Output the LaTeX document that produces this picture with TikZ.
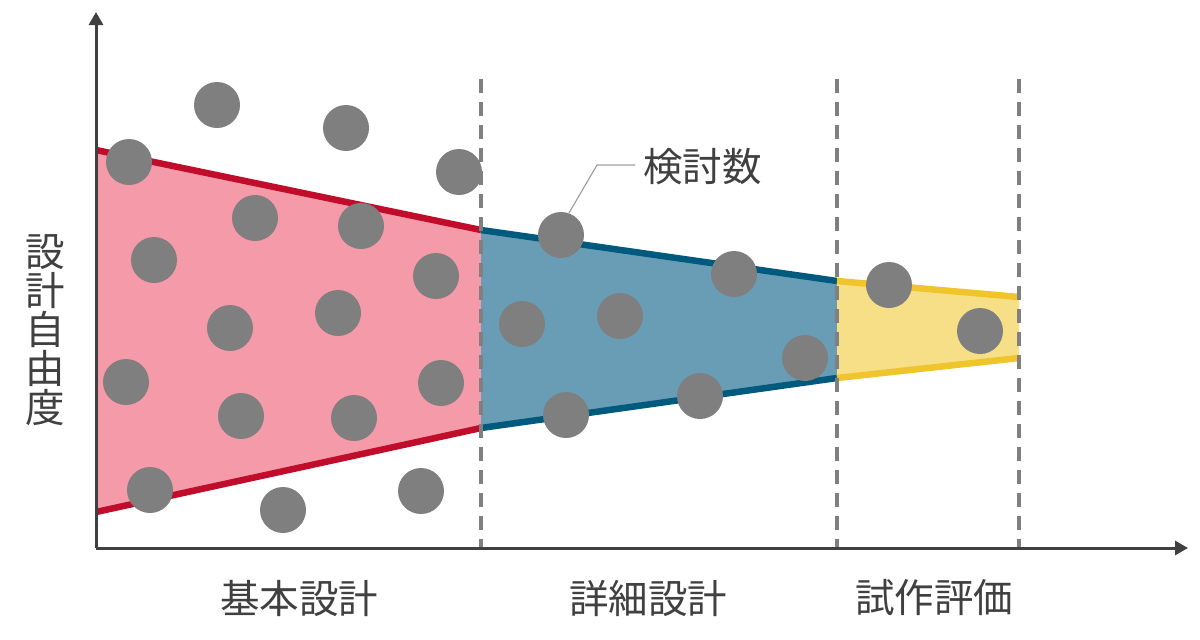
\documentclass[tikz,border=0pt]{standalone}
\usepackage{fontspec}
\setmainfont{Noto Sans CJK JP}
\usetikzlibrary{arrows.meta}
\definecolor{axisc}{HTML}{404040}
\definecolor{redl}{HTML}{C00D2B}
\definecolor{redf}{HTML}{F59AA8}
\definecolor{bluel}{HTML}{005A7E}
\definecolor{bluef}{HTML}{699DB6}
\definecolor{yell}{HTML}{F0C52B}
\definecolor{yelf}{HTML}{F6DF86}
\definecolor{dotc}{HTML}{7F7F7F}
\definecolor{dashc}{HTML}{808080}
\definecolor{txtc}{HTML}{404040}
\definecolor{leadc}{HTML}{A0A0A0}
\tikzset{
  dot/.style={circle,fill=dotc,minimum size=46pt,inner sep=0pt},
  edge/.style={line width=6.5pt},
  divider/.style={dashc,line width=3.5pt,dash pattern=on 14pt off 9pt},
  lbl/.style={text=txtc,font=\fontsize{39.5}{39}\selectfont,inner sep=0pt},
  axis/.style={axisc,line width=3pt,-{Triangle[length=13pt,width=14pt]}}
}
\begin{document}
\begin{tikzpicture}[x=1pt,y=-1pt]
\useasboundingbox (0,0) rectangle (1200,640);
% coordinates
\coordinate (o) at (96,548);
\coordinate (ytop) at (96,12);
\coordinate (xend) at (1188,548);
\coordinate (r1) at (96,150);
\coordinate (r2) at (481,230);
\coordinate (r3) at (481,428);
\coordinate (r4) at (96,512);
\coordinate (b2) at (837,281);
\coordinate (b3) at (837,378);
\coordinate (y2) at (1019,297);
\coordinate (y3) at (1019,358);
% fills
\fill[redf] (r1) -- (r2) -- (r3) -- (r4) -- cycle;
\fill[bluef] (r2) -- (b2) -- (b3) -- (r3) -- cycle;
\fill[yelf] (b2) -- (y2) -- (y3) -- (b3) -- cycle;
% edges
\draw[edge,redl] (r1) -- (r2);
\draw[edge,redl] (r4) -- (r3);
\draw[edge,bluel] (r2) -- (b2);
\draw[edge,bluel] (r3) -- (b3);
\draw[edge,yell] (b2) -- (y2);
\draw[edge,yell] (b3) -- (y3);
% dividers
\coordinate (d1t) at (481,79); \coordinate (d1b) at (481,548);
\coordinate (d2t) at (837,79); \coordinate (d2b) at (837,548);
\coordinate (d3t) at (1019,79); \coordinate (d3b) at (1019,548);
\draw[divider] (d1t) -- (d1b);
\draw[divider] (d2t) -- (d2b);
\draw[divider] (d3t) -- (d3b);
% axes
\draw[axis] (o) -- (ytop);
\draw[axis] (o) -- (xend);
% dots
\foreach \n/\x/\y in {a/217/105,b/346/128,c/459/172,d/129/162,e/255/218,f/361/226,g/154/260,h/436/276,i/230/328,j/338/313,k/126/382,l/441/383,m/241/416,n/354/418,p/150/490,q/283/510,r/421/491,s/561/235,t/522/324,u/620/316,v/734/274,w/805/358,x/566/415,z/700/396,aa/889/285,ab/980/331}
  \node[dot] (\n) at (\x,\y) {};
% label with leader
\node[lbl,anchor=west] (kt) at (643,167) {検討数};
\coordinate (k0) at (569,213);
\coordinate (k1) at (597,165);
\coordinate (k2) at (635,165);
\draw[leadc,line width=1.2pt] (k0) -- (k1) -- (k2);
% axis labels
\node[lbl] (l1) at (299,598) {基本設計};
\node[lbl] (l2) at (648,598) {詳細設計};
\node[lbl] (l3) at (934,598) {試作評価};
\node[lbl,align=center] (yl) at (45,330) {設\\計\\自\\由\\度};
\end{tikzpicture}
\end{document}
